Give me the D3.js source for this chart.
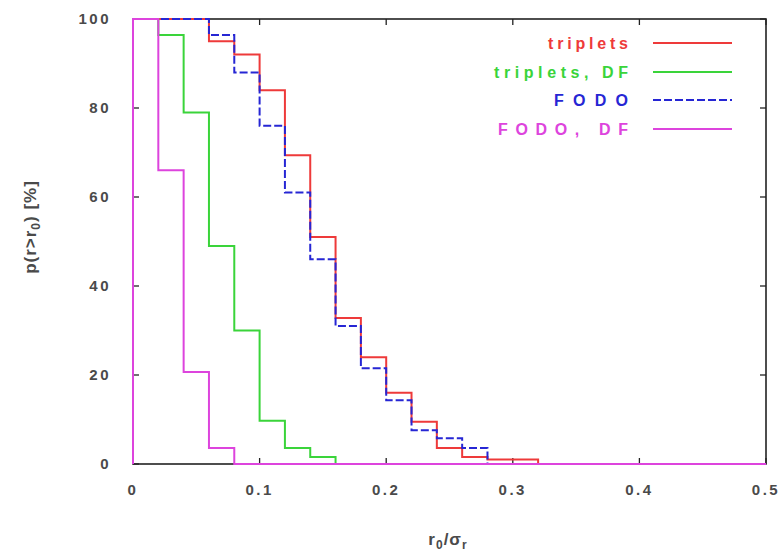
<!DOCTYPE html>
<html><head><meta charset="utf-8">
<script src="https://cdn.jsdelivr.net/npm/d3@7"></script>
<style>
body{margin:0;background:#fff;}
text{font-family:"Liberation Sans",Arial,sans-serif;}
</style></head>
<body><svg id="c" width="784" height="556"></svg>
<script>
// bin width 0.02, starting at r0/sigma = 0
const binWidth = 0.02;
const seriesNames = ["triplets", "triplets, DF", "FODO", "FODO, DF"];
const triplets   = [100,100,100,95,92,84,69.4,51,32.8,24,16,9.5,3.6,1.6,1,1,0];
const tripletsDF = [100,96.4,79,49,30,9.7,3.6,1.6,0];
const fodo       = [100,100,100,96.4,88,76,61,46,31,21.5,14.3,7.6,5.8,3.6,0];
const fodoDF     = [100,66,20.7,3.6,0];
const xTicks = [0,0.1,0.2,0.3,0.4,0.5];
const yTicks = [0,20,40,60,80,100];
const xTickLabels = ["0","0.1","0.2","0.3","0.4","0.5"];
const yTickLabels = ["0","20","40","60","80","100"];

const colors = ["#ee3a3a","#3ad43a","#2626d4","#dd44dd"];
const svg = d3.select("#c");
const L=133, R=766, T=19, B=464;
const x = d3.scaleLinear().domain([0,0.5]).range([L,R]);
const y = d3.scaleLinear().domain([0,100]).range([B,T]);

// frame
svg.append("rect").attr("x",L).attr("y",T).attr("width",R-L).attr("height",B-T)
  .attr("fill","none").attr("stroke","#222").attr("stroke-width",1.6);

// ticks (inward, all sides)
const tl=6;
xTicks.forEach((t,i)=>{
  svg.append("line").attr("x1",x(t)).attr("x2",x(t)).attr("y1",B).attr("y2",B-tl).attr("stroke","#222").attr("stroke-width",1.3);
  svg.append("line").attr("x1",x(t)).attr("x2",x(t)).attr("y1",T).attr("y2",T+tl).attr("stroke","#222").attr("stroke-width",1.3);
  svg.append("text").attr("x",x(t)).attr("y",B+31).attr("text-anchor","middle")
    .attr("font-size",15).attr("font-weight","bold").attr("fill","#4a4a4a").attr("letter-spacing",2.5).text(xTickLabels[i]);
});
yTicks.forEach((t,i)=>{
  svg.append("line").attr("x1",L).attr("x2",L+tl).attr("y1",y(t)).attr("y2",y(t)).attr("stroke","#222").attr("stroke-width",1.3);
  svg.append("line").attr("x1",R).attr("x2",R-tl).attr("y1",y(t)).attr("y2",y(t)).attr("stroke","#222").attr("stroke-width",1.3);
  svg.append("text").attr("x",L-22).attr("y",y(t)+5).attr("text-anchor","end")
    .attr("font-size",15).attr("font-weight","bold").attr("fill","#4a4a4a").attr("letter-spacing",2.5).text(yTickLabels[i]);
});

// step curves
const line = d3.line().x(d=>x(d[0])).y(d=>y(d[1])).curve(d3.curveStepAfter);
function pts(vals){
  const p=[[0,0]];
  vals.forEach((v,i)=>p.push([i*binWidth,v]));
  p.push([0.5,vals[vals.length-1]]);
  return p;
}
const allSeries=[triplets,tripletsDF,fodo,fodoDF];
allSeries.forEach((s,i)=>{
  const path=svg.append("path").attr("d",line(pts(s))).attr("fill","none")
    .attr("stroke",colors[i]).attr("stroke-width",2);
  if(i===2) path.attr("stroke-dasharray","8,3");
});

// legend
const legY=[43,72,100,129];
const legW=[80,134,74,130];
seriesNames.forEach((n,i)=>{
  svg.append("text").attr("x",628).attr("y",legY[i]+6).attr("text-anchor","end")
    .attr("font-size",16).attr("font-weight","bold").attr("fill",colors[i])
    .attr("textLength",legW[i]).attr("lengthAdjust","spacing").text(n);
  const l=svg.append("line").attr("x1",653).attr("x2",732).attr("y1",legY[i]).attr("y2",legY[i])
    .attr("stroke",colors[i]).attr("stroke-width",2);
  if(i===2) l.attr("stroke-dasharray","8,3");
});

// axis labels
const yl=svg.append("text").attr("transform","translate(36,227) rotate(-90)")
  .attr("text-anchor","middle").attr("font-size",17).attr("font-weight","bold").attr("fill","#4a4a4a").attr("letter-spacing",1);
yl.append("tspan").text("p(r>r");
yl.append("tspan").attr("font-size",12).attr("dy",4).text("0");
yl.append("tspan").attr("dy",-4).text(") [%]");

const xl=svg.append("text").attr("x",448).attr("y",545).attr("text-anchor","middle")
  .attr("font-size",17).attr("font-weight","bold").attr("fill","#4a4a4a").attr("letter-spacing",1);
xl.append("tspan").text("r");
xl.append("tspan").attr("font-size",12).attr("dy",4).text("0");
xl.append("tspan").attr("dy",-4).text("/σ");
xl.append("tspan").attr("font-size",12).attr("dy",4).text("r");
</script></body></html>
